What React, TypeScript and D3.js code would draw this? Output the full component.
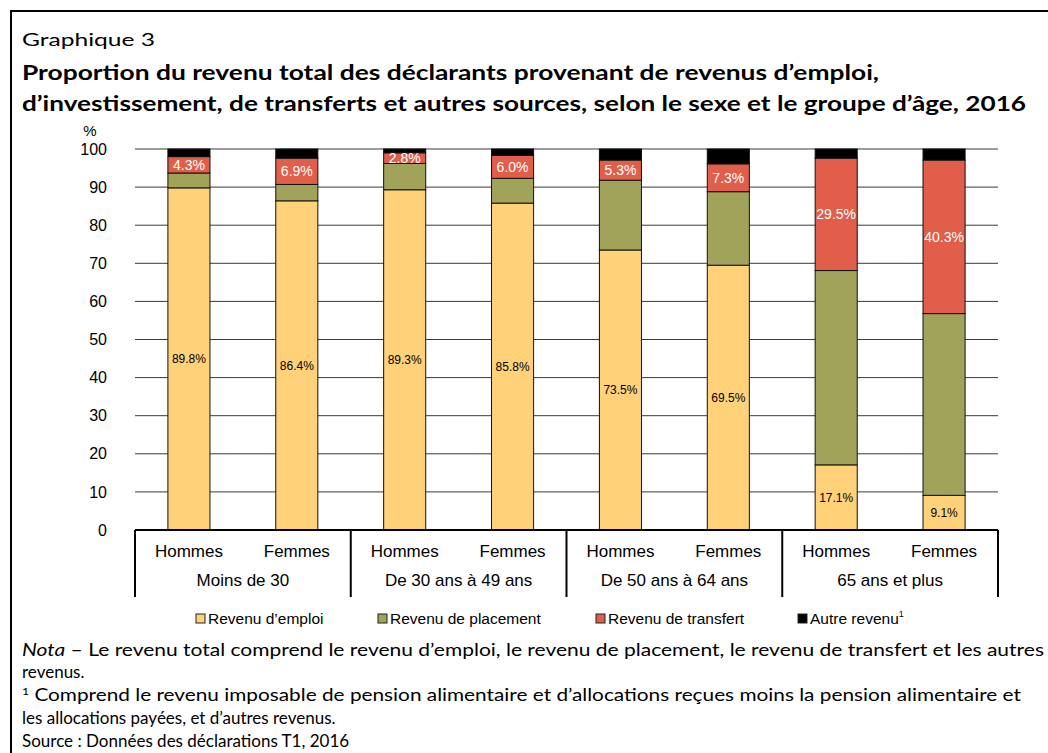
import React from "react";
import * as d3 from "d3";

const groups = ["Moins de 30", "De 30 ans à 49 ans", "De 50 ans à 64 ans", "65 ans et plus"];
const sexes = ["Hommes", "Femmes"];
const emploi = [89.8, 86.4, 89.3, 85.8, 73.5, 69.5, 17.1, 9.1];
const placement = [3.9, 4.3, 6.9, 6.5, 18.3, 19.3, 51.0, 47.7];
const transfert = [4.3, 6.9, 2.8, 6.0, 5.3, 7.3, 29.5, 40.3];
const autre = [2.0, 2.4, 1.0, 1.7, 2.9, 3.9, 2.4, 2.9];
const seriesNames = ["Revenu d’emploi", "Revenu de placement", "Revenu de transfert", "Autre revenu"];
const colors = ["#FFD27A", "#A2A35B", "#E05E4A", "#000000"];
const yTicks = [0, 10, 20, 30, 40, 50, 60, 70, 80, 90, 100];

const W = 1048, H = 753;
const left = 135, right = 998, top = 149, bottom = 530;

export default function App() {
  const keys = groups.flatMap((g, gi) => sexes.map((s) => `${gi}-${s}`));
  const x = d3.scaleBand<string>().domain(keys).range([left, right]).paddingInner(0.61).paddingOuter(0.305);
  const y = d3.scaleLinear().domain([0, 100]).range([bottom, top]);
  const rows = keys.map((k, i) => ({ key: k, emploi: emploi[i], placement: placement[i], transfert: transfert[i], autre: autre[i] }));
  const stack = d3.stack<any>().keys(["emploi", "placement", "transfert", "autre"])(rows);
  const groupScale = d3.scaleBand<string>().domain(groups).range([left, right]);
  const font = "'Liberation Sans', Arial, sans-serif";
  const gothic = "'Lato', 'Noto Sans', sans-serif";
  const legendX = [196, 378, 596, 798];

  return (
    <svg width={W} height={H} style={{ position: "absolute", left: 0, top: 0, background: "#fff" }}>
      <rect x={0} y={0} width={W} height={H} fill="#fff" />
      <line x1={10} y1={11} x2={W} y2={11} stroke="#000" strokeWidth={2} />
      <line x1={11} y1={10} x2={11} y2={H} stroke="#000" strokeWidth={2} />
      <text x={22} y={46} fontFamily={gothic} fontSize={18} textLength={133} lengthAdjust="spacingAndGlyphs">Graphique 3</text>
      <text x={22} y={80} fontFamily={gothic} fontSize={21} fontWeight="bold" textLength={857} lengthAdjust="spacingAndGlyphs">Proportion du revenu total des déclarants provenant de revenus d’emploi,</text>
      <text x={22} y={111} fontFamily={gothic} fontSize={21} fontWeight="bold" textLength={1004} lengthAdjust="spacingAndGlyphs">d’investissement, de transferts et autres sources, selon le sexe et le groupe d’âge, 2016</text>

      <text x={90} y={136} fontFamily={font} fontSize={15} textAnchor="middle">%</text>
      {yTicks.map((t) => (
        <g key={t}>
          {t > 0 && <line x1={left} x2={right} y1={y(t)} y2={y(t)} stroke="#3a3a3a" strokeWidth={1} />}
          <text x={107} y={y(t)} dy="0.35em" fontFamily={font} fontSize={16} textAnchor="end">{t}</text>
        </g>
      ))}

      {stack.map((s, si) => (
        <g key={si}>
          {s.map((d, i) => (
            <rect key={i} x={x(keys[i])} width={x.bandwidth()} y={y(d[1])} height={y(d[0]) - y(d[1])}
              fill={colors[si]} stroke="#111" strokeWidth={1} />
          ))}
        </g>
      ))}
      {stack[0].map((d, i) => (
        <text key={"e" + i} x={(x(keys[i]) as number) + x.bandwidth() / 2} y={(y(d[0]) + y(d[1])) / 2} dy="0.35em"
          fontFamily={font} fontSize={12} textAnchor="middle" fill="#000">{emploi[i].toFixed(1)}%</text>
      ))}
      {stack[2].map((d, i) => (
        <text key={"t" + i} x={(x(keys[i]) as number) + x.bandwidth() / 2} y={(y(d[0]) + y(d[1])) / 2} dy="0.35em"
          fontFamily={font} fontSize={14} textAnchor="middle" fill="#fff">{transfert[i].toFixed(1)}%</text>
      ))}

      <line x1={left} x2={right} y1={bottom} y2={bottom} stroke="#000" strokeWidth={2} />
      {[...groups.map((g) => groupScale(g) as number), right].map((gx, i) => (
        <line key={i} x1={gx} x2={gx} y1={bottom} y2={597} stroke="#000" strokeWidth={2} />
      ))}
      {keys.map((k, i) => (
        <text key={k} x={(x(k) as number) + x.bandwidth() / 2} y={551} dy="0.35em" fontFamily={font} fontSize={17} textAnchor="middle">{sexes[i % 2]}</text>
      ))}
      {groups.map((g) => (
        <text key={g} x={(groupScale(g) as number) + groupScale.bandwidth() / 2} y={580} dy="0.35em" fontFamily={font} fontSize={17} textAnchor="middle">{g}</text>
      ))}

      {seriesNames.map((n, i) => (
        <g key={n}>
          <rect x={legendX[i]} y={614} width={9} height={9} fill={colors[i]} stroke="#222" strokeWidth={1} />
          <text x={legendX[i] + 12} y={619} dy="0.35em" fontFamily={font} fontSize={15.5}>
            {n}{i === 3 && <tspan fontSize={9} dy={-7}>1</tspan>}
          </text>
        </g>
      ))}

      <text x={22} y={656} fontFamily={gothic} fontSize={17} textLength={1022} lengthAdjust="spacingAndGlyphs"><tspan fontStyle="italic">Nota</tspan> – Le revenu total comprend le revenu d’emploi, le revenu de placement, le revenu de transfert et les autres</text>
      <text x={22} y={678} fontFamily={gothic} fontSize={17}>revenus.</text>
      <text x={22} y={701} fontFamily={gothic} fontSize={17} textLength={999} lengthAdjust="spacingAndGlyphs"><tspan fontSize={10} dy={-6}>1</tspan><tspan dy={6}> Comprend le revenu imposable de pension alimentaire et d’allocations reçues moins la pension alimentaire et</tspan></text>
      <text x={22} y={724} fontFamily={gothic} fontSize={17}>les allocations payées, et d’autres revenus.</text>
      <text x={22} y={747} fontFamily={gothic} fontSize={17}>Source : Données des déclarations T1, 2016</text>
    </svg>
  );
}
